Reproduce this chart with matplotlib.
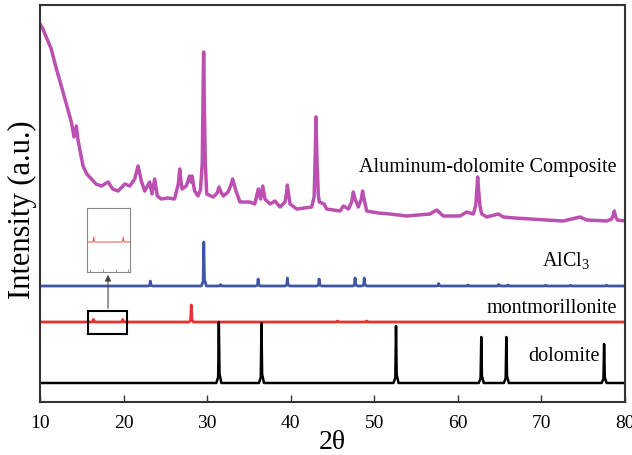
import numpy as np
import matplotlib.pyplot as plt
from matplotlib.patches import Rectangle

plt.rcParams['font.family'] = ['Liberation Serif', 'DejaVu Serif']
plt.rcParams['mathtext.fontset'] = 'custom'
plt.rcParams['mathtext.rm'] = 'Liberation Serif'

# Composite pattern, traced point by point (2theta, intensity in a.u.)
comp_2theta = [10.0, 10.3, 10.8, 11.35, 11.9, 12.55, 13.15, 13.75, 14.07, 14.35,
               14.55, 14.75, 15.15, 15.6, 16.15, 16.7, 17.35, 18.15, 18.7, 19.35,
               20.15, 20.75, 21.33, 21.55, 21.73, 21.9, 22.12, 22.53, 23.12, 23.4,
               23.72, 24.04, 24.52, 25.3, 26.1, 26.55, 26.72, 26.85, 27.0, 27.5,
               27.9, 28.1, 28.2, 28.5, 28.9, 29.2, 29.42, 29.5, 29.58, 29.66,
               29.78, 29.95, 30.74, 31.2, 31.42, 31.65, 31.94, 32.5, 32.85, 33.05,
               33.25, 33.45, 33.93, 35.1, 35.7, 36.12, 36.4, 36.65, 36.92, 37.52,
               38.12, 38.72, 39.32, 39.5, 39.6, 39.72, 39.92, 40.72, 42.51, 42.8,
               42.93, 43.03, 43.13, 43.3, 43.42, 43.98, 44.3, 45.9, 46.3, 46.9,
               47.3, 47.49, 47.7, 48.09, 48.45, 48.6, 48.78, 49.09, 50.5, 51.88,
               53.88, 56.67, 57.47, 58.26, 60.26, 61.06, 61.85, 62.15, 62.28, 62.37,
               62.48, 62.65, 62.85, 63.45, 64.84, 65.44, 66.8, 68.63, 70.6, 72.62,
               74.62, 75.42, 77.8, 78.4, 78.6, 78.72, 78.85, 79.08, 80.0]
comp_int = [378, 374, 364, 353, 335, 316, 298, 280, 265, 276,
            262, 253, 236, 228, 223, 218, 216, 220, 213, 211,
            218, 216, 223, 230, 236, 230, 221, 211, 220, 208,
            223, 206, 203, 204, 203, 218, 233, 222, 213, 216,
            226, 220, 226, 211, 206, 212, 240, 300, 350, 300,
            238, 208, 205, 209, 215, 210, 206, 210, 217, 223,
            217, 211, 200, 200, 198, 213, 203, 216, 203, 198,
            201, 195, 200, 209, 217, 209, 198, 193, 195, 205,
            245, 285, 245, 207, 200, 198, 193, 191, 196, 193,
            200, 210, 203, 195, 203, 211, 203, 191, 189, 188,
            186, 188, 192, 186, 186, 190, 188, 197, 213, 225,
            212, 196, 188, 185, 188, 185, 184, 183, 182, 181,
            185, 182, 181, 183, 187, 191, 186, 182, 181]

# AlCl3 reference pattern
alcl3_base = 116
alcl3_pos = [23.2, 29.6, 31.6, 36.1, 39.6, 43.4, 47.7, 48.8, 57.7, 61.2, 64.9, 66.0, 70.5, 73.5, 77.8]
alcl3_h = [5, 44, 1.5, 7, 8, 7, 8, 8, 2.5, 1, 1.5, 1, 0.8, 0.8, 0.8]

# montmorillonite reference pattern
mont_base = 80
mont_pos = [16.4, 19.9, 28.1, 45.6, 49.1]
mont_h = [2.5, 2.5, 17, 1, 1]

# dolomite reference pattern
dol_base = 19
dol_pos = [31.4, 36.5, 52.6, 62.8, 65.8, 77.5]
dol_h = [61, 60, 57, 46, 46, 39]

xticks = [10, 20, 30, 40, 50, 60, 70, 80]


def stick_trace(pos, h, base, half):
    xs = [10.0]
    ys = [base]
    for p, hh in zip(pos, h):
        xs += [p - half, p - 0.08, p, p + 0.08, p + half]
        ys += [base, base + 0.1 * hh, base + hh, base + 0.15 * hh, base]
    xs.append(80.0)
    ys.append(base)
    return xs, ys


fig = plt.figure(figsize=(6.32, 4.56), dpi=100)
ax = fig.add_axes([40 / 632, 1 - 403 / 456, 585 / 632, 397 / 456])

ax.plot(comp_2theta, comp_int, color='#BB50B0', lw=2.5, solid_joinstyle='round')
x, y = stick_trace(alcl3_pos, alcl3_h, alcl3_base, 0.3)
ax.plot(x, y, color='#3F55A8', lw=2.0)
x, y = stick_trace(mont_pos, mont_h, mont_base, 0.25)
ax.plot(x, y, color='#E8302E', lw=2.0)
x, y = stick_trace(dol_pos, dol_h, dol_base, 0.3)
ax.plot(x, y, color='black', lw=1.8)

ax.set_xlim(10, 80)
ax.set_ylim(0, 397)
ax.set_xticks(xticks)
ax.set_yticks([])
ax.tick_params(axis='x', direction='in', length=5, width=1.0, labelsize=14, pad=9,
               colors='#333333', labelcolor='black')
for s in ax.spines.values():
    s.set_color('#333333')
    s.set_linewidth(1.5)

ax.set_xlabel('2θ', fontsize=20, labelpad=-2)
fig.text(22 / 632, 1 - 210 / 456, 'Intensity (a.u.)', rotation=90,
         ha='center', va='center', fontsize=22)

ax.text(79.05, 231, 'Aluminum-dolomite Composite', ha='right', va='baseline', fontsize=14.5)
ax.text(75.8, 136, 'AlCl$_\\mathregular{3}$', ha='right', va='baseline', fontsize=14.5)
ax.text(79.0, 90, 'montmorillonite', ha='right', va='baseline', fontsize=14.5)
ax.text(77.0, 42, 'dolomite', ha='right', va='baseline', fontsize=14.5)

# zoom box around the weak montmorillonite reflections
ax.add_patch(Rectangle((15.74, 68), 4.67, 23, fill=False, ec='black', lw=1.5, zorder=5))
ax.annotate('', xy=(18.14, 130), xytext=(18.14, 91),
            arrowprops=dict(arrowstyle='-|>', color='#444444', lw=0.8, mutation_scale=9))

ax_in = fig.add_axes([87 / 632, 1 - 273 / 456, 43 / 632, 64 / 456])
x, y = stick_trace(mont_pos, mont_h, mont_base, 0.15)
ax_in.plot(x, y, color='#EE6262', lw=0.8)
ax_in.set_xlim(15.6, 20.7)
ax_in.set_ylim(65, 97)
ax_in.set_xticks([16, 17.5, 19, 20.5])
ax_in.set_yticks([])
ax_in.tick_params(axis='x', direction='in', length=2, width=0.6, labelbottom=False,
                  colors='#888888')
for s in ax_in.spines.values():
    s.set_color('#888888')
    s.set_linewidth(0.8)

fig.savefig('out.png', dpi=100)
